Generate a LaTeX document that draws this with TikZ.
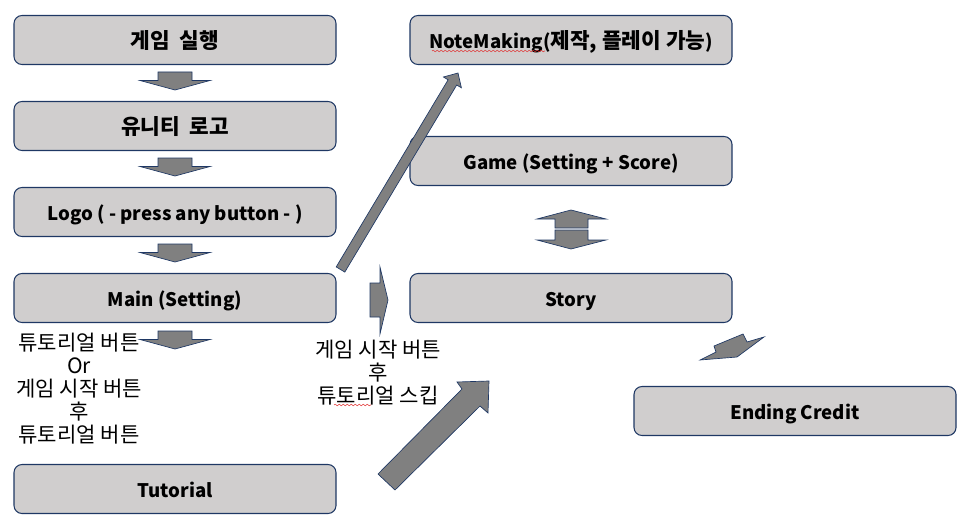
\documentclass[tikz,border=0pt]{standalone}
\usepackage{fontspec}
\setmainfont{Noto Sans CJK KR}
\usetikzlibrary{decorations.pathmorphing}
\definecolor{boxfill}{HTML}{D0CECE}
\definecolor{boxline}{HTML}{1F3864}
\definecolor{arrfill}{HTML}{808080}
\definecolor{squig}{HTML}{E03030}
\newcommand\kb[1]{{\fontsize{16}{15}\selectfont #1}}
\newcommand\downarr[1]{\draw[blk] (158,#1) -- (192,#1) -- (192,{#1+8.5}) -- (210,{#1+8.5}) -- (175,{#1+18}) -- (140,{#1+8.5}) -- (158,{#1+8.5}) -- cycle;}
\begin{document}
\begin{tikzpicture}[x=0.75pt,y=-0.75pt,
  box/.style={draw=boxline, line width=0.8pt, fill=boxfill, rounded corners=6pt,
    minimum width=241.5pt, minimum height=36.75pt, inner sep=0pt,
    text height=12.3pt, text depth=0pt,
    font=\bfseries\fontsize{14}{15}\selectfont},
  blk/.style={draw=boxline, line width=0.5pt, fill=arrfill, line join=miter},
  lbl/.style={align=center, inner sep=0pt, font=\fontsize{15.8}{17.25}\selectfont},
  wavy/.style={draw=squig, line width=0.4pt, decorate,
    decoration={snake, segment length=3pt, amplitude=0.6pt}}]
\useasboundingbox (0,0) rectangle (970,528);
% boxes
\node[box] (start) at (175,40) {\kb{게임\ \ 실행}};
\node[box] (unity) at (175,126) {\kb{유니티\ \ 로고}};
\node[box] (logo) at (175,212) {Logo ( - press any button - )};
\node[box] (main) at (175,298) {Main (Setting)};
\node[box] (tut) at (175,489) {Tutorial};
\node[box] (note) at (571,40) {NoteMaking(\kb{제작, 플레이 가능})};
\node[box] (game) at (571,161) {Game (Setting + Score)};
\node[box] (story) at (571,298) {Story};
\node[box] (end) at (795,411) {Ending Credit};
% labels
\node[lbl] (lblA) at (79,389) {튜토리얼 버튼\\Or\\게임 시작 버튼\\후\\튜토리얼 버튼};
\node[lbl] (lblB) at (378,372.5) {게임 시작 버튼\\후\\튜토리얼 스킵};
% spell-check squiggles
\draw[wavy] (432,51) -- (545,51);
\draw[wavy] (334,405) -- (371,405);
% block arrows
\downarr{72}
\downarr{158}
\downarr{244}
\downarr{331}
\draw[blk] (370,283) -- (380,283) -- (380,267) -- (388,300) -- (380,334) -- (380,317) -- (370,317) -- cycle;
\draw[blk] (571,210) -- (606,219) -- (588,219) -- (588,228) -- (555,228) -- (555,219) -- (537,219) -- cycle;
\draw[blk] (555,230) -- (588,230) -- (588,240) -- (606,240) -- (571,249) -- (537,240) -- (555,240) -- cycle;
\draw[blk] (336.2,266.9) -- (448.1,79.8) -- (443.4,77.0) -- (458,73) -- (461.4,87.8) -- (456.7,85.0) -- (344.8,272.1) -- cycle;
\draw[blk] (378,474) -- (462,389) -- (457,382) -- (489,381) -- (488,413) -- (480,406) -- (395,490) -- cycle;
\draw[blk] (743,334) -- (747,342) -- (764,337) -- (737,357) -- (700,360) -- (716,352) -- (714,346) -- cycle;
\end{tikzpicture}
\end{document}
